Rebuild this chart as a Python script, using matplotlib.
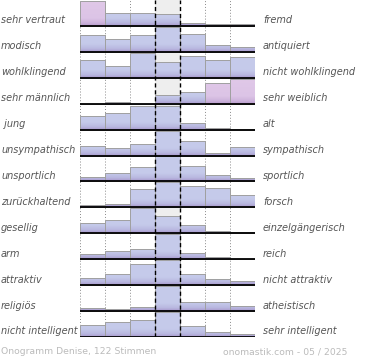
import numpy as np
import matplotlib
matplotlib.use("Agg")
import matplotlib.pyplot as plt
import matplotlib.transforms as mtransforms
from matplotlib.patches import Rectangle
from matplotlib.colors import LinearSegmentedColormap

# ---- data -------------------------------------------------------------
left_labels = ["sehr vertraut", "modisch", "wohlklingend", "sehr männlich", " jung",
               "unsympathisch", "unsportlich", "zurückhaltend", "gesellig", "arm",
               "attraktiv", "religiös", "nicht intelligent"]
right_labels = ["fremd", "antiquiert", "nicht wohlklingend", "sehr weiblich", "alt",
                "sympathisch", "sportlich", "forsch", "einzelgängerisch", "reich",
                "nicht attraktiv", "atheistisch", "sehr intelligent"]
# relative bar heights per row (100 = full row), 7 columns each
r01 = [100, 53, 53, 49, 13, 8, 7]
r02 = [69, 53, 69, 100, 73, 29, 21]
r03 = [72, 47, 100, 64, 87, 71, 84]
r04 = [0, 8, 0, 33, 45, 83, 100]
r05 = [56, 67, 96, 96, 28, 5, 4]
r06 = [39, 31, 48, 100, 57, 11, 35]
r07 = [16, 33, 56, 100, 61, 24, 13]
r08 = [9, 15, 72, 100, 84, 76, 49]
r09 = [43, 53, 100, 71, 35, 11, 5]
r10 = [21, 31, 40, 100, 23, 7, 0]
r11 = [28, 43, 83, 100, 43, 24, 15]
r12 = [11, 7, 15, 100, 37, 37, 21]
r13 = [49, 61, 69, 100, 45, 20, 12]
rows = [r01, r02, r03, r04, r05, r06, r07, r08, r09, r10, r11, r12, r13]
# bars drawn in the pink tone (row, column)
pink_bars = [(0, 0), (3, 5), (3, 6)]
footer_left = "Onogramm Denise, 122 Stimmen"
footer_right = "onomastik.com - 05 / 2025"

# ---- figure -----------------------------------------------------------
W, H = 370, 360
fig = plt.figure(figsize=(W / 100, H / 100), dpi=100)
fig.patch.set_facecolor("white")
x0, x1 = 80, 255
ybot = 337
ax = fig.add_axes([x0 / W, (H - ybot) / H, (x1 - x0) / W, ybot / H])
n = len(rows)
ax.set_xlim(0, 7)
ax.set_ylim(0, n)
ax.axis("off")

row_px = ybot / n
full = 25.0 / row_px

# center column background
ax.add_patch(Rectangle((3, 0), 1, n, facecolor="#eeeeee", edgecolor="none", zorder=0))

# dotted grid lines
for xv in [0, 1, 2, 5, 6, 7]:
    ax.plot([xv, xv], [0, n], color="#8a8a8a", lw=0.7, ls=(0, (1, 2)), zorder=1)

blue_cmap = LinearSegmentedColormap.from_list(
    "b", [(0.0, "#a898cc"), (0.12, "#b9b8e0"), (0.3, "#c5caea"), (1.0, "#c6cbeb")])
pink_cmap = LinearSegmentedColormap.from_list(
    "p", [(0.0, "#b89ccc"), (0.12, "#cdb3dc"), (0.3, "#dcc4e6"), (1.0, "#e0c8e8")])

for i, vals in enumerate(rows):
    base = n - 1 - i
    heights = [v / 100 * full for v in vals]
    cols = ["#dcc4e6" if (i, j) in pink_bars else "#c5caea" for j in range(7)]
    bars = ax.bar(np.arange(7) + 0.5, heights, width=1.0, bottom=base,
                  color=cols, edgecolor="#a0a0a0", linewidth=0.7, zorder=2)
    for j, b in enumerate(bars):
        h = heights[j]
        if h <= 0:
            continue
        cmap = pink_cmap if (i, j) in pink_bars else blue_cmap
        g = np.linspace(0, h, 64).reshape(-1, 1)
        im = ax.imshow(g, cmap=cmap, vmin=0, vmax=1, aspect="auto", origin="lower",
                       extent=[j, j + 1, base, base + h], zorder=2.5,
                       interpolation="bilinear")
        im.set_clip_path(b)
        ax.add_patch(Rectangle((j, base), 1, h, facecolor="none",
                               edgecolor="#a0a0a0", lw=0.7, zorder=2.6))
    # baseline
    ax.plot([0, 7.03], [base, base], color="black", lw=1.3, zorder=4,
            solid_capstyle="butt")

# dashed center lines
for xv in [3, 4]:
    ax.plot([xv, xv], [0, n], color="black", lw=1.0, ls=(0, (3, 2)), zorder=5)

ax.set_xlim(0, 7)
ax.set_ylim(0, n)

# labels
tl = mtransforms.blended_transform_factory(fig.transFigure, ax.transData)
off = 5.5 / row_px
for i in range(n):
    base = n - 1 - i
    ax.text(1 / W, base + off, left_labels[i], transform=tl, ha="left", va="center",
            fontsize=7.0, style="italic", color="#555555", family="DejaVu Sans")
    ax.text(263 / W, base + off, right_labels[i], transform=tl, ha="left", va="center",
            fontsize=7.0, style="italic", color="#555555", family="DejaVu Sans")

fig.text(1 / W, 1 - 352 / H, footer_left, ha="left", va="center", fontsize=6.7,
         color="#bbbbbb", family="DejaVu Sans")
fig.text(347 / W, 1 - 352 / H, footer_right, ha="right", va="center", fontsize=6.7,
         color="#bbbbbb", family="DejaVu Sans")

fig.savefig("out.png", dpi=100, facecolor="white")
